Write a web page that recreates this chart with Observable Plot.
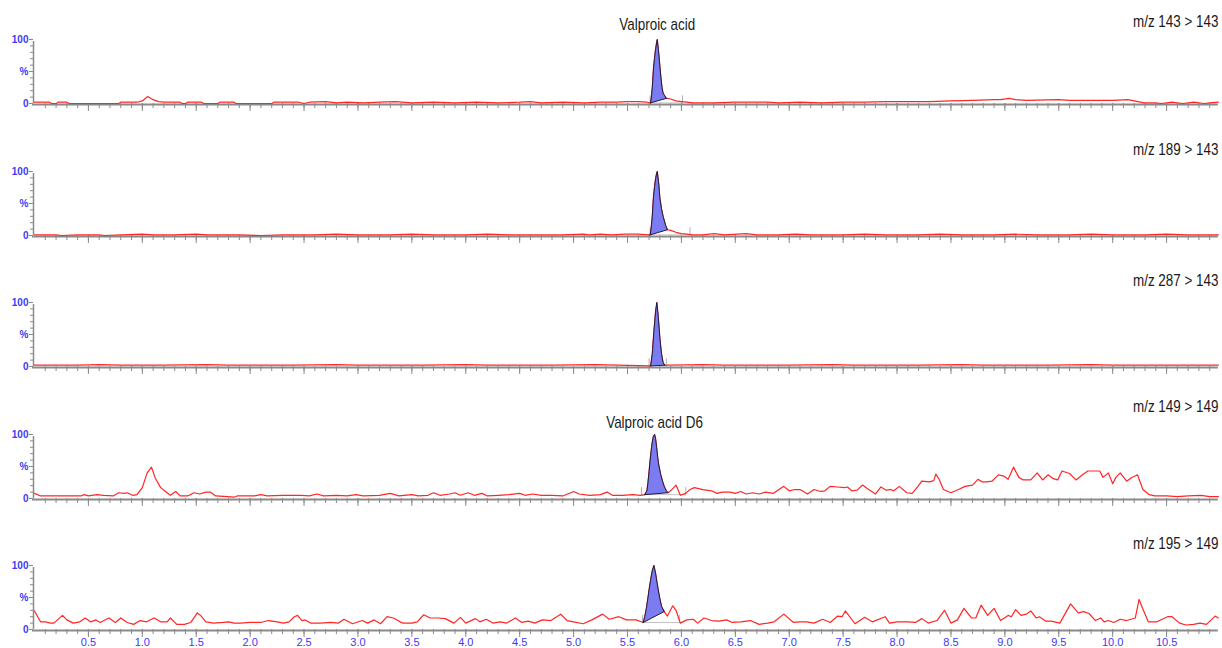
<!DOCTYPE html>
<html><head><meta charset="utf-8">
<script src="https://cdn.jsdelivr.net/npm/d3@7"></script>
<script src="https://cdn.jsdelivr.net/npm/@observablehq/plot@0.6"></script>
<style>
body{margin:0;background:#fff;}
#chart{position:relative;width:1222px;height:648px;overflow:hidden;background:#fff;}
.panel{position:absolute;left:0;}
</style></head><body><div id="chart"></div>
<script>
// ---------- data ----------
const xDomain = [0, 11];
const timeRange = [0, 10.98];
const yDomain = [0, 100];
const xMajorTicks = [0.5,1.0,1.5,2.0,2.5,3.0,3.5,4.0,4.5,5.0,5.5,6.0,6.5,7.0,7.5,8.0,8.5,9.0,9.5,10.0,10.5];
const xTickLabels = ["0.5","1.0","1.5","2.0","2.5","3.0","3.5","4.0","4.5","5.0","5.5","6.0","6.5","7.0","7.5","8.0","8.5","9.0","9.5","10.0","10.5"];
const xMinorTicks = d3.range(1, 110).map(i => i / 10);
const yMinorTicks = d3.range(0, 101, 10);
const yLabelTicks = [0, 50, 100];
const yTickLabels = ["0", "%", "100"];

const transitions = ["m/z 143 > 143", "m/z 189 > 143", "m/z 287 > 143", "m/z 149 > 149", "m/z 195 > 149"];
const compounds = ["Valproic acid", "", "", "Valproic acid D6", ""];
const integStart = [5.71, 5.71, 5.70, 5.63, 5.64];
const integEnd = [6.01, 6.08, 5.86, 6.04, 5.98];
const integLevel = [1, 1, 1, 6, 11];

const trace1 = [[0,2],[0.14,2],[0.16,0],[0.2,0],[0.22,2],[0.3,2],[0.32,0],[0.78,0],[0.8,2],[0.95,2],[1.0,4],[1.05,11],[1.1,6],[1.15,3],[1.2,2],[1.35,2],[1.37,0],[1.4,0],[1.42,2],[1.55,2],[1.57,0],[1.7,0],[1.72,2],[1.85,2],[1.87,0],[2.2,0],[2.22,2],[2.45,2],[2.5,0],[2.55,2],[2.7,3],[2.8,1],[2.9,2],[3.05,1],[3.2,2],[3.35,3],[3.5,1],[3.7,2],[3.9,1],[4.1,2],[4.3,1],[4.5,2],[4.6,3],[4.7,1],[4.9,2],[5.1,1],[5.25,2],[5.4,2],[5.5,3],[5.6,3],[5.68,2],
  [5.87,8],[5.9,7],[5.95,4],[6.0,3],[6.05,2],[6.1,1],[6.3,1],[6.5,2],[6.8,2],[6.9,1],[7.1,2],[7.3,1],[7.5,2],[7.7,2],[7.9,3],[8.1,3],[8.3,3],[8.5,4],[8.7,5],[8.9,6],[8.96,6],[9.04,8],[9.1,6],[9.2,5],[9.5,6],[9.6,5],[9.8,5],[10.0,5],[10.14,6],[10.2,4],[10.29,1],[10.4,1],[10.45,0],[10.55,2],[10.65,0],[10.75,2],[10.85,0],[10.9,1],[10.98,2]];
const peak1 = [[5.714,1],[5.722,10],[5.73,25],[5.74,52],[5.75,70],[5.76,84],[5.77,95],[5.776,100],[5.79,78],[5.80,58],[5.81,40],[5.82,25],[5.83,16],[5.845,12],[5.86,8]];

const trace2 = [[0,1],[0.2,1],[0.25,0],[0.4,1],[0.6,1],[0.65,0],[0.8,1],[1.0,2],[1.1,1],[1.3,1],[1.5,2],[1.6,1],[1.9,1],[2.1,0],[2.3,1],[2.6,1],[2.8,2],[3.0,1],[3.3,1],[3.5,2],[3.7,1],[4.0,1],[4.2,2],[4.4,1],[4.7,1],[4.9,1],[5.09,2],[5.15,1],[5.25,2],[5.35,1],[5.48,2],[5.6,2],[5.7,1],
  [5.87,9],[5.9,8],[5.95,5],[6.0,3],[6.05,2],[6.1,1],[6.2,1],[6.3,3],[6.4,1],[6.6,3],[6.7,1],[6.9,1],[7.06,2],[7.2,1],[7.5,1],[7.7,2],[7.9,1],[8.2,1],[8.4,2],[8.6,1],[8.9,1],[9.1,2],[9.3,1],[9.6,1],[9.8,2],[10.0,1],[10.3,1],[10.5,2],[10.7,1],[10.98,1]];
const peak2 = [[5.71,1],[5.72,12],[5.73,30],[5.74,58],[5.75,75],[5.76,88],[5.77,97],[5.776,100],[5.79,80],[5.80,59],[5.815,42],[5.83,30],[5.853,16],[5.87,9]];

const trace3 = [[0,2],[0.4,2],[0.6,3],[0.8,2],[1.2,2],[1.6,3],[1.8,2],[2.4,2],[2.8,3],[3.0,2],[3.6,2],[4.0,3],[4.2,2],[4.8,2],[5.2,3],[5.4,2],[5.715,1],
  [5.845,2],[5.9,2],[6.2,3],[6.4,2],[7.0,2],[7.4,3],[7.6,2],[8.2,2],[8.6,3],[8.8,2],[9.4,2],[9.8,3],[10.0,2],[10.6,2],[10.98,2]];
const peak3 = [[5.715,1],[5.73,20],[5.745,55],[5.76,85],[5.772,100],[5.785,78],[5.80,45],[5.815,20],[5.83,6],[5.845,2]];

const trace4 = [[0,8],[0.056,4],[0.2,4],[0.43,4],[0.46,6],[0.5,4],[0.58,6],[0.64,5],[0.73,4],[0.78,9],[0.83,8],[0.86,9],[0.91,5],[0.95,6],[1.0,17],[1.045,40],[1.085,49],[1.12,32],[1.17,17],[1.215,11],[1.26,5],[1.31,11],[1.35,4],[1.42,4],[1.48,9],[1.53,7],[1.59,10],[1.63,10],[1.68,4],[1.79,3],[1.85,2],[1.88,4],[2.04,4],[2.1,6],[2.16,4],[2.3,5],[2.47,5],[2.55,4],[2.62,7],[2.68,4],[2.8,5],[2.9,4],[2.98,6],[3.05,4],[3.2,5],[3.3,8],[3.38,4],[3.5,6],[3.56,4],[3.65,5],[3.7,9],[3.76,5],[3.85,7],[3.9,9],[3.95,5],[4.02,9],[4.08,5],[4.15,8],[4.2,4],[4.3,5],[4.4,6],[4.5,8],[4.55,5],[4.62,7],[4.7,5],[4.8,5],[4.9,4],[5.0,11],[5.05,7],[5.15,5],[5.25,6],[5.31,10],[5.36,5],[5.45,5],[5.55,6],[5.62,5],
  [5.9,12],[5.95,21],[5.99,5],[6.04,8],[6.08,14],[6.12,17],[6.2,14],[6.28,12],[6.33,8],[6.38,10],[6.45,10],[6.5,8],[6.55,11],[6.6,7],[6.66,9],[6.72,7],[6.78,10],[6.85,8],[6.95,19],[7.0,12],[7.05,14],[7.1,14],[7.17,7],[7.23,14],[7.29,11],[7.33,12],[7.38,19],[7.45,18],[7.51,17],[7.54,18],[7.58,12],[7.63,13],[7.68,21],[7.72,16],[7.8,7],[7.85,18],[7.9,13],[7.94,14],[7.97,12],[8.02,19],[8.09,9],[8.14,8],[8.19,18],[8.23,27],[8.3,26],[8.34,28],[8.36,38],[8.39,30],[8.43,14],[8.5,9],[8.57,14],[8.63,19],[8.7,21],[8.75,30],[8.79,26],[8.83,26],[8.88,27],[8.94,37],[8.99,35],[9.03,30],[9.08,49],[9.13,33],[9.17,29],[9.24,29],[9.3,40],[9.35,29],[9.4,37],[9.45,31],[9.49,29],[9.53,43],[9.6,39],[9.66,29],[9.72,37],[9.77,43],[9.83,43],[9.88,43],[9.91,33],[9.96,40],[10.0,23],[10.03,33],[10.07,40],[10.13,27],[10.17,32],[10.23,37],[10.28,14],[10.34,6],[10.39,4],[10.5,4],[10.6,3],[10.7,4],[10.82,5],[10.9,3],[10.98,3]];
const peak4 = [[5.66,6],[5.68,12],[5.69,25],[5.70,42],[5.71,60],[5.72,75],[5.73,88],[5.74,97],[5.751,100],[5.76,94],[5.77,80],[5.78,64],[5.79,52],[5.807,38],[5.825,27],[5.84,19],[5.86,12],[5.875,9]];

const trace5 = [[0,29],[0.056,12],[0.1,12],[0.15,10],[0.18,10],[0.26,22],[0.3,15],[0.36,10],[0.42,12],[0.47,18],[0.52,12],[0.57,15],[0.61,11],[0.69,18],[0.75,11],[0.8,18],[0.86,11],[0.92,8],[0.98,14],[1.04,12],[1.11,18],[1.17,12],[1.23,12],[1.26,18],[1.32,8],[1.39,8],[1.45,11],[1.51,26],[1.54,22],[1.59,12],[1.66,10],[1.75,11],[1.8,12],[1.85,10],[1.91,10],[2.0,11],[2.1,11],[2.17,14],[2.25,12],[2.31,10],[2.36,12],[2.41,20],[2.44,22],[2.48,14],[2.51,15],[2.56,10],[2.65,10],[2.75,11],[2.82,10],[2.87,16],[2.95,9],[3.04,14],[3.09,10],[3.15,15],[3.21,9],[3.27,20],[3.33,18],[3.39,12],[3.42,10],[3.5,10],[3.55,12],[3.61,23],[3.67,18],[3.74,18],[3.81,17],[3.89,10],[3.95,19],[4.0,10],[4.09,17],[4.13,12],[4.19,16],[4.25,10],[4.32,12],[4.38,10],[4.46,18],[4.52,11],[4.58,13],[4.64,10],[4.71,15],[4.79,14],[4.88,24],[4.94,14],[5.0,12],[5.09,9],[5.17,15],[5.27,24],[5.33,16],[5.42,20],[5.49,15],[5.58,15],
  [5.87,21],[5.92,37],[5.95,30],[5.99,10],[6.05,15],[6.11,16],[6.15,10],[6.21,18],[6.28,14],[6.35,13],[6.42,15],[6.47,11],[6.55,12],[6.64,14],[6.72,8],[6.8,10],[6.86,12],[6.95,24],[7.04,11],[7.1,12],[7.16,12],[7.23,10],[7.31,16],[7.38,11],[7.45,21],[7.49,20],[7.52,29],[7.61,9],[7.7,19],[7.77,12],[7.89,20],[7.93,10],[8.0,12],[8.1,12],[8.17,11],[8.23,17],[8.29,10],[8.37,14],[8.44,30],[8.5,10],[8.56,15],[8.62,33],[8.69,18],[8.73,18],[8.78,38],[8.84,22],[8.9,33],[8.96,14],[9.03,22],[9.06,20],[9.1,31],[9.15,22],[9.2,24],[9.24,29],[9.29,18],[9.32,20],[9.38,13],[9.43,13],[9.51,10],[9.61,40],[9.68,26],[9.73,28],[9.78,25],[9.84,14],[9.89,18],[9.92,12],[9.96,14],[10.01,11],[10.07,16],[10.13,14],[10.21,18],[10.245,47],[10.28,32],[10.33,12],[10.41,12],[10.51,20],[10.55,20],[10.62,10],[10.68,7],[10.75,8],[10.81,10],[10.87,8],[10.95,21],[10.98,18]];
const peak5 = [[5.646,11],[5.66,20],[5.675,33],[5.69,50],[5.70,62],[5.715,78],[5.73,92],[5.745,100],[5.76,88],[5.775,72],[5.785,62],[5.80,48],[5.816,36],[5.84,28]];

const traces = [trace1, trace2, trace3, trace4, trace5];
const peaks = [peak1, peak2, peak3, peak4, peak5];

// ---------- layout & style ----------
const panelTop = [0, 131.5, 263, 394.5, 526];
const titleDy = [-18, -22, -22, -28, -22];
const compoundDy = [-15, 0, 0, -11.5, 0];
const integTickUp = 11, integTickDown = 2;
const redLine = "#ff2626";
const peakFill = "#7b7bf2";
const peakStroke = "#1d1d3d";
const axisGray = "#8a8a8a";
const blueText = "#3b3bf5";
const labelFont = '"Liberation Sans", Arial, sans-serif';
const labelSqueeze = 0.84;
const axisFont = '"Liberation Sans", Arial, sans-serif';

const chart = document.getElementById("chart");

transitions.forEach((title, i) => {
  const trace = traces[i];
  const peak = peaks[i];
  const series = [...trace, ...peak].sort((a, b) => a[0] - b[0]);
  const apex = peak.reduce((m, d) => (d[1] > m[1] ? d : m), peak[0]);
  const baseline = [peak[0], peak[peak.length - 1]];
  const integ = [{start: integStart[i], end: integEnd[i], level: integLevel[i]}];
  const last = i === transitions.length - 1;

  const marks = [
    // y axis
    Plot.ruleX([timeRange[0]], {y1: yDomain[0], y2: yDomain[1], stroke: axisGray, strokeWidth: 1.5, dx: -1, insetBottom: -2}),
    Plot.axisY({ticks: yMinorTicks, tickSize: 3, tickFormat: () => "", stroke: axisGray, dx: -1, label: null}),
    Plot.axisY({ticks: yLabelTicks, tickSize: 4, tickPadding: 1, dx: -1, stroke: axisGray, label: null,
      tickFormat: d => yTickLabels[yLabelTicks.indexOf(d)], fill: blueText, fontSize: 10, fontWeight: "bold", fontFamily: axisFont}),
    // x axis
    Plot.axisX({ticks: xMinorTicks, tickSize: 5, tickFormat: () => "", stroke: axisGray, label: null}),
    Plot.axisX({ticks: xMajorTicks, tickSize: 8, tickPadding: 1, stroke: axisGray, label: null,
      tickFormat: d => last ? xTickLabels[xMajorTicks.indexOf(d)] : "", fill: blueText, fontSize: 11, fontFamily: axisFont}),
    Plot.ruleY([yDomain[0]], {x1: timeRange[0], x2: timeRange[1], stroke: axisGray, strokeWidth: 2, dy: 1, insetLeft: -2}),
    // integration markers
    Plot.ruleY(integ, {x1: "start", x2: "end", y: "level", stroke: "#c4c4c4", strokeWidth: 1}),
    Plot.ruleX(integ.flatMap(d => [{x: d.start, level: d.level}, {x: d.end, level: d.level}]),
      {x: "x", y1: d => d.level - integTickDown, y2: d => d.level + integTickUp, stroke: "#b0b0b0", strokeWidth: 1}),
    // chromatogram
    Plot.line(series, {x: d => d[0], y: d => d[1], stroke: redLine, strokeWidth: 1.2}),
    // integrated peak
    Plot.line(peak, {x: d => d[0], y: d => d[1], fill: peakFill, stroke: peakStroke, strokeWidth: 1}),
    Plot.line(baseline, {x: d => d[0], y: d => d[1], stroke: peakStroke, strokeWidth: 1}),
    // transition label
    Plot.text([title], {frameAnchor: "top-right", dx: -2, dy: titleDy[i], textAnchor: "end", lineAnchor: "middle",
      fontSize: 16, fontFamily: labelFont, fill: "#1a1a1a"})
  ];
  if (compounds[i]) {
    marks.push(Plot.text([apex], {x: d => d[0], y: d => d[1], text: () => compounds[i], dy: compoundDy[i],
      textAnchor: "middle", lineAnchor: "middle", fontSize: 16, fontFamily: labelFont, fill: "#1a1a1a"}));
  }

  const svg = Plot.plot({
    width: 1222, height: 132,
    marginLeft: 34, marginRight: 2, marginTop: 39, marginBottom: 29,
    x: {domain: xDomain, label: null},
    y: {domain: yDomain, label: null},
    style: {background: "transparent", overflow: "visible"},
    marks
  });
  // condensed look of the instrument's label font: squeeze around each label's anchor point
  d3.select(svg).selectAll('g[aria-label="text"] text').each(function () {
    const t = this.getAttribute("transform") || "";
    this.setAttribute("transform", `${t} scale(${labelSqueeze},1)`);
  });
  const wrap = document.createElement("div");
  wrap.className = "panel";
  wrap.style.top = panelTop[i] + "px";
  wrap.appendChild(svg);
  chart.appendChild(wrap);
});
</script></body></html>
